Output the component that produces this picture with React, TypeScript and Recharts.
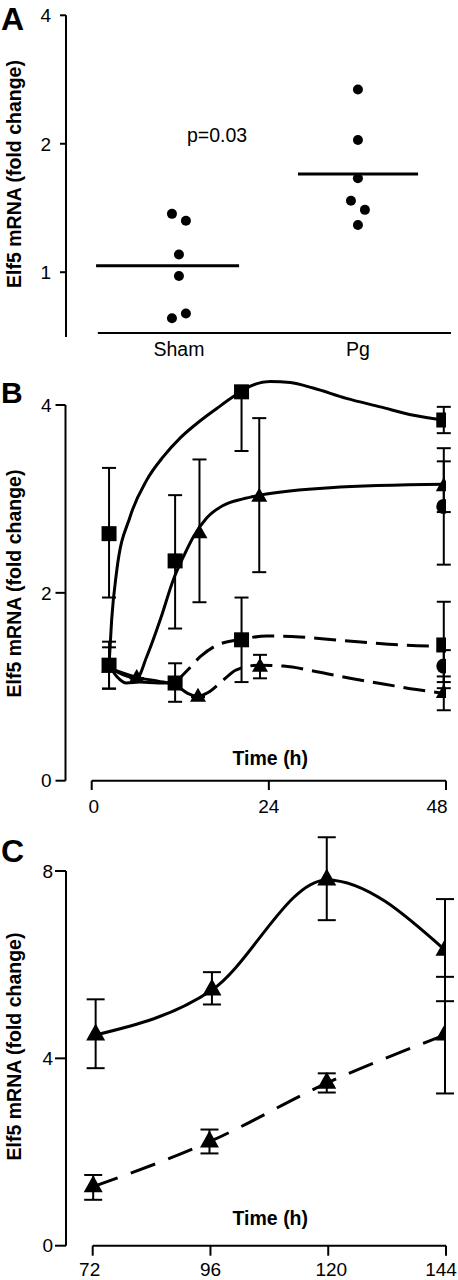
import React from "react";
import {
  ComposedChart,
  Line,
  Scatter,
  XAxis,
  YAxis,
  ErrorBar,
  ReferenceLine,
  Customized,
} from "recharts";

const FONT = "'Liberation Sans', Arial, Helvetica, sans-serif";
const INK = "#000";
const Y_TITLE = "Elf5 mRNA (fold change)";
const X_TITLE = "Time (h)";

// ---------- panel A: Sham vs Pg (log2 axis) ----------
const groupNames = ["Sham", "Pg"];
const shamDots = [
  { t: 0.961, v: 1.37 },
  { t: 1.039, v: 1.32 },
  { t: 1.0, v: 1.1 },
  { t: 1.0, v: 0.98 },
  { t: 0.961, v: 0.78 },
  { t: 1.039, v: 0.8 },
];
const pgDots = [
  { t: 2.0, v: 2.68 },
  { t: 2.0, v: 2.04 },
  { t: 2.0, v: 1.66 },
  { t: 1.961, v: 1.47 },
  { t: 2.039, v: 1.4 },
  { t: 2.0, v: 1.29 },
];
const shamMean = [{ t: 0.537, v: 1.035 }, { t: 1.336, v: 1.035 }];
const pgMean = [{ t: 1.665, v: 1.7 }, { t: 2.336, v: 1.7 }];
const ticksA = [1, 2, 4];
const pValue = "p=0.03";

// ---------- panel B: 0-48 h ----------
// markers, e = [down, up]
const sqTreatedB = [
  { t: 2.35, v: 2.63, e: [0.68, 0.7] },
  { t: 11.3, v: 2.34, e: [0.72, 0.7] },
  { t: 20.3, v: 4.14, e: [0.63, 0] },
  { t: 47.7, v: 3.84, e: [0.14, 0.14] },
];
const triTreatedB = [
  { t: 14.6, v: 2.63, e: [0.73, 0.79] },
  { t: 22.7, v: 3.02, e: [0.8, 0.84] },
  { t: 47.7, v: 3.13, e: [0.27, 0.27] },
];
const sqControlB = [
  { t: 2.35, v: 1.23, e: [0.25, 0.25] },
  { t: 11.3, v: 1.04, e: [0.2, 0.21] },
  { t: 20.3, v: 1.5, e: [0.45, 0.45] },
  { t: 47.7, v: 1.445, e: [0.46, 0.46] },
];
const triControlB = [
  { t: 2.35, v: 1.2, e: [0.22, 0.22] },
  { t: 6.1, v: 1.09, e: [0, 0] },
  { t: 14.4, v: 0.89, e: [0, 0] },
  { t: 22.8, v: 1.21, e: [0.12, 0.13] },
  { t: 47.7, v: 0.93, e: [0.18, 0.18] },
];
const circlesB = [
  { t: 47.7, v: 2.92, e: [0.62, 0.62] },
  { t: 47.7, v: 1.22, e: [0.17, 0.17] },
];
// fitted curves
const fitSqTreatedB = [
  { t: 2.35, v: 1.23 }, { t: 2.7, v: 1.71 }, { t: 3.4, v: 2.24 }, { t: 5.2, v: 2.81 },
  { t: 7.45, v: 3.2 }, { t: 9.7, v: 3.45 }, { t: 12, v: 3.65 }, { t: 14.2, v: 3.8 },
  { t: 16.9, v: 3.96 }, { t: 19.4, v: 4.1 }, { t: 21.5, v: 4.2 }, { t: 24.2, v: 4.25 },
  { t: 26.9, v: 4.24 }, { t: 30, v: 4.18 }, { t: 34.5, v: 4.07 }, { t: 39.1, v: 3.98 },
  { t: 43.6, v: 3.89 }, { t: 47.7, v: 3.84 },
];
const fitTriTreatedB = [
  { t: 2.35, v: 1.2 }, { t: 4.2, v: 1.13 }, { t: 6.1, v: 1.09 }, { t: 7.45, v: 1.32 },
  { t: 9.4, v: 1.74 }, { t: 11.06, v: 2.14 }, { t: 12.4, v: 2.38 }, { t: 13.8, v: 2.6 },
  { t: 15.6, v: 2.8 }, { t: 17.8, v: 2.93 }, { t: 20.5, v: 3.0 }, { t: 22.8, v: 3.04 },
  { t: 32.3, v: 3.12 }, { t: 47.7, v: 3.155 },
];
const fitSqControlSolidB = [
  { t: 2.35, v: 1.23 }, { t: 3.4, v: 1.11 }, { t: 4.74, v: 1.04 }, { t: 6.5, v: 1.05 },
  { t: 9, v: 1.04 }, { t: 11.3, v: 1.04 },
];
const fitTriControlSolidB = [
  { t: 2.35, v: 1.2 }, { t: 6.1, v: 1.1 }, { t: 9, v: 1.06 }, { t: 11.3, v: 1.02 },
  { t: 13, v: 0.93 }, { t: 14.4, v: 0.89 },
];
const fitSqControlDashedB = [
  { t: 11.3, v: 1.04 }, { t: 12.9, v: 1.17 }, { t: 14.7, v: 1.32 }, { t: 16.9, v: 1.44 },
  { t: 20.3, v: 1.505 }, { t: 23.7, v: 1.54 }, { t: 28.2, v: 1.53 }, { t: 32.7, v: 1.5 },
  { t: 37.3, v: 1.47 }, { t: 41.8, v: 1.445 }, { t: 47.7, v: 1.43 },
];
const fitTriControlDashedB = [
  { t: 14.4, v: 0.89 }, { t: 16.0, v: 0.95 }, { t: 17.8, v: 1.07 }, { t: 19.6, v: 1.18 },
  { t: 22.7, v: 1.23 }, { t: 26, v: 1.22 }, { t: 30.5, v: 1.16 }, { t: 35, v: 1.09 },
  { t: 39.5, v: 1.03 }, { t: 44, v: 0.97 }, { t: 47.7, v: 0.93 },
];
const ticksBx = [0, 24, 48];
const ticksBy = [0, 2, 4];

// ---------- panel C: 72-144 h ----------
const triTreatedC = [
  { t: 72.6, v: 4.5, e: [0.71, 0.76] },
  { t: 96.3, v: 5.46, e: [0.31, 0.38] },
  { t: 119.7, v: 7.81, e: [0.86, 0.91] },
  { t: 143.8, v: 6.31, e: [1.09, 1.09] },
];
const triControlC = [
  { t: 72.1, v: 1.26, e: [0.28, 0.25] },
  { t: 95.8, v: 2.22, e: [0.25, 0.26] },
  { t: 119.7, v: 3.47, e: [0.2, 0.21] },
  { t: 143.8, v: 4.5, e: [1.25, 1.24] },
];
const ticksCx = [72, 96, 120, 144];
const ticksCy = [0, 4, 8];

// ---------- marker shapes ----------
const dot = (r: number) => (p: any) => <circle cx={p.cx} cy={p.cy} r={r} fill={INK} />;
const square = (s: number) => (p: any) => (
  <rect x={p.cx - s / 2} y={p.cy - s / 2} width={s} height={s} fill={INK} />
);
const triangle = (w: number, h: number) => (p: any) => (
  <polygon
    points={`${p.cx - w / 2},${p.cy + h / 3} ${p.cx + w / 2},${p.cy + h / 3} ${p.cx},${p.cy - (2 * h) / 3}`}
    fill={INK}
  />
);

const tickStyle = (size: number) => ({ fill: INK, fontSize: size, fontFamily: FONT });
const tickLine = { stroke: INK, strokeWidth: 2 };

// x tick labels, nudged sideways like the original (end labels kept inside the frame)
const xTick = (nudge: Record<number, number>, size: number) => (p: any) => (
  <text
    x={p.x + (nudge[p.payload.value] ?? 0)}
    y={p.y}
    dy="0.71em"
    textAnchor="middle"
    fill={INK}
    fontSize={size}
    fontFamily={FONT}
  >
    {p.payload.value}
  </text>
);

function yTitle(x: number, y: number) {
  return (
    <text
      x={x}
      y={y}
      transform={`rotate(-90 ${x} ${y})`}
      textAnchor="middle"
      fontFamily={FONT}
      fontWeight={700}
      fontSize={19.5}
      fill={INK}
    >
      {Y_TITLE}
    </text>
  );
}

function panelLetter(letter: string, y: number, size: number) {
  return (
    <text x={1} y={y} fontFamily={FONT} fontWeight={700} fontSize={size} fill={INK}>
      {letter}
    </text>
  );
}

function xTitle() {
  return (
    <text x={270.3} y={405} textAnchor="middle" fontFamily={FONT} fontWeight={700} fontSize={19.5} fill={INK}>
      {X_TITLE}
    </text>
  );
}

function PanelA() {
  return (
    <ComposedChart width={458} height={360} margin={{ top: 15.3, right: 7, bottom: 0, left: 0 }}>
      <XAxis
        type="number"
        dataKey="t"
        domain={[0.369, 2.52]}
        allowDataOverflow
        ticks={[1, 2]}
        tickFormatter={(v: number) => groupNames[v - 1]}
        axisLine={false}
        tickLine={false}
        tickSize={0}
        tickMargin={5}
        height={23}
        tick={tickStyle(19.5)}
      />
      <YAxis
        type="number"
        dataKey="v"
        scale="log"
        domain={[0.705, 4]}
        allowDataOverflow
        ticks={ticksA}
        width={66}
        axisLine={{ stroke: INK, strokeWidth: 2 }}
        tickLine={tickLine}
        tickSize={6}
        tickMargin={9}
        tick={tickStyle(19)}
      />
      <ReferenceLine
        segment={[{ x: 0.547, y: 0.72 }, { x: 2.52, y: 0.72 }]}
        stroke={INK}
        strokeWidth={2}
        ifOverflow="visible"
      />
      <Line data={shamMean} dataKey="v" stroke={INK} strokeWidth={3} dot={false} isAnimationActive={false} />
      <Line data={pgMean} dataKey="v" stroke={INK} strokeWidth={3} dot={false} isAnimationActive={false} />
      <Scatter data={shamDots} dataKey="v" shape={dot(5)} isAnimationActive={false} />
      <Scatter data={pgDots} dataKey="v" shape={dot(5)} isAnimationActive={false} />
      <Customized
        component={() => (
          <g>
            {panelLetter("A", 30, 32)}
            <text x={187} y={141.5} fontFamily={FONT} fontSize={19.5} fill={INK}>
              {pValue}
            </text>
            {yTitle(20.7, 174)}
          </g>
        )}
      />
    </ComposedChart>
  );
}

const errB = { dataKey: "e", direction: "y" as const, width: 7, stroke: INK, strokeWidth: 2 };

function PanelB() {
  const curve = { dataKey: "v", stroke: INK, strokeWidth: 3, dot: false, type: "monotone" as const, isAnimationActive: false };
  return (
    <ComposedChart width={458} height={460} margin={{ top: 16.8, right: 12, bottom: 0, left: 0 }}>
      <XAxis
        type="number"
        dataKey="t"
        domain={[-3.55, 48]}
        allowDataOverflow
        ticks={ticksBx}
        axisLine={false}
        tickLine={tickLine}
        tickSize={9.3}
        tickMargin={10}
        height={39.3}
        tick={xTick({ 0: 2, 48: -9 }, 19)}
      />
      <YAxis
        type="number"
        dataKey="v"
        domain={[0, 4.3]}
        allowDataOverflow
        ticks={ticksBy}
        width={65.5}
        axisLine={false}
        tickLine={tickLine}
        tickSize={10}
        tickMargin={4}
        tick={tickStyle(19)}
      />
      <ReferenceLine segment={[{ x: -3.55, y: 0 }, { x: -3.55, y: 4 }]} stroke={INK} strokeWidth={2} ifOverflow="visible" />
      <ReferenceLine segment={[{ x: 0, y: 0 }, { x: 48, y: 0 }]} stroke={INK} strokeWidth={2} ifOverflow="visible" />
      <Line data={fitSqTreatedB} {...curve} />
      <Line data={fitTriTreatedB} {...curve} />
      <Line data={fitSqControlSolidB} {...curve} />
      <Line data={fitTriControlSolidB} {...curve} />
      <Line data={fitSqControlDashedB} {...curve} strokeDasharray="22 9" />
      <Line data={fitTriControlDashedB} {...curve} strokeDasharray="22 9" />
      <Scatter data={sqTreatedB} dataKey="v" shape={square(15)} isAnimationActive={false}>
        <ErrorBar {...errB} />
      </Scatter>
      <Scatter data={triTreatedB} dataKey="v" shape={triangle(16, 14)} isAnimationActive={false}>
        <ErrorBar {...errB} />
      </Scatter>
      <Scatter data={sqControlB} dataKey="v" shape={square(15)} isAnimationActive={false}>
        <ErrorBar {...errB} />
      </Scatter>
      <Scatter data={triControlB} dataKey="v" shape={triangle(16, 14)} isAnimationActive={false}>
        <ErrorBar {...errB} />
      </Scatter>
      <Scatter data={circlesB} dataKey="v" shape={dot(7.5)} isAnimationActive={false}>
        <ErrorBar {...errB} />
      </Scatter>
      <Customized
        component={() => (
          <g>
            {panelLetter("B", 43.3, 30)}
            {xTitle()}
            {yTitle(20.7, 223.5)}
          </g>
        )}
      />
    </ComposedChart>
  );
}

const errC = { dataKey: "e", direction: "y" as const, width: 9, stroke: INK, strokeWidth: 2 };

function PanelC() {
  const curve = { dataKey: "v", stroke: INK, strokeWidth: 3, dot: false, type: "monotone" as const, isAnimationActive: false };
  return (
    <ComposedChart width={458} height={460} margin={{ top: 4.14, right: 12, bottom: 0, left: 0 }}>
      <XAxis
        type="number"
        dataKey="t"
        domain={[66.56, 144]}
        allowDataOverflow
        ticks={ticksCx}
        axisLine={false}
        tickLine={tickLine}
        tickSize={10}
        tickMargin={7.3}
        height={34.3}
        tick={xTick({ 72: -3, 120: 3, 144: -5 }, 19)}
      />
      <YAxis
        type="number"
        dataKey="v"
        domain={[0, 9]}
        allowDataOverflow
        ticks={ticksCy}
        width={66}
        axisLine={false}
        tickLine={tickLine}
        tickSize={11}
        tickMargin={2}
        tick={tickStyle(19)}
      />
      <ReferenceLine segment={[{ x: 66.56, y: 0 }, { x: 66.56, y: 8 }]} stroke={INK} strokeWidth={2} ifOverflow="visible" />
      <ReferenceLine segment={[{ x: 72, y: 0 }, { x: 144, y: 0 }]} stroke={INK} strokeWidth={2} ifOverflow="visible" />
      <Line data={triTreatedC} {...curve} />
      <Line data={triControlC} {...curve} strokeDasharray="26 14" />
      <Scatter data={triTreatedC} dataKey="v" shape={triangle(19, 17)} isAnimationActive={false}>
        <ErrorBar {...errC} />
      </Scatter>
      <Scatter data={triControlC} dataKey="v" shape={triangle(19, 17)} isAnimationActive={false}>
        <ErrorBar {...errC} />
      </Scatter>
      <Customized
        component={() => (
          <g>
            {panelLetter("C", 41.7, 32)}
            {xTitle()}
            {yTitle(20.7, 226.5)}
          </g>
        )}
      />
    </ComposedChart>
  );
}

export default function App() {
  return (
    <div style={{ position: "absolute", left: 0, top: 0, width: 458, height: 1280, background: "#fff", overflow: "hidden" }}>
      <div style={{ position: "absolute", left: 0, top: 0 }}>
        <PanelA />
      </div>
      <div style={{ position: "absolute", left: 0, top: 360 }}>
        <PanelB />
      </div>
      <div style={{ position: "absolute", left: 0, top: 820 }}>
        <PanelC />
      </div>
    </div>
  );
}
